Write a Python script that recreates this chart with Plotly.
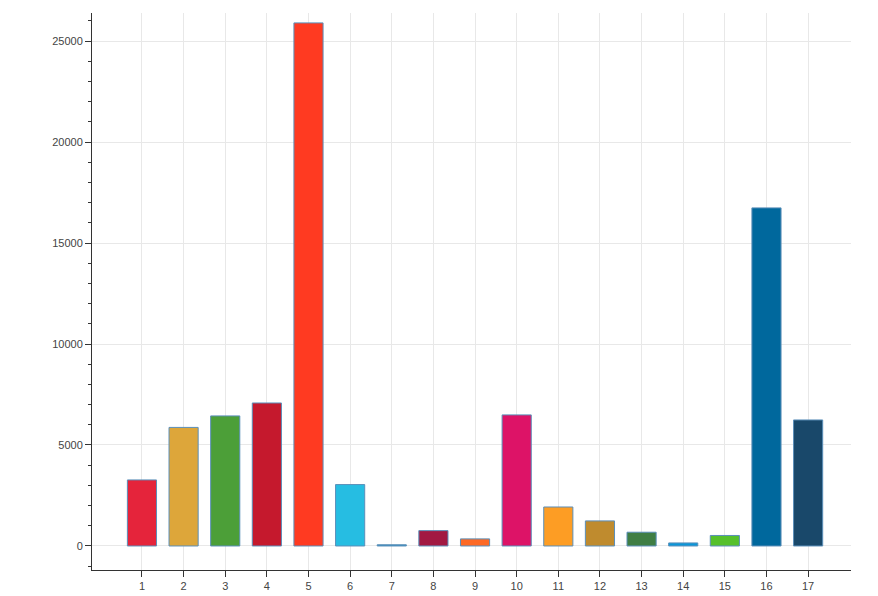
import plotly.graph_objects as go

goals = list(range(1, 18))
values = [3270, 5870, 6440, 7080, 25900, 3040, 60, 760, 350, 6490, 1930, 1240, 680, 150, 520, 16740, 6240]
colors = ["#E5243B", "#DDA63A", "#4C9F38", "#C5192D", "#FF3A21", "#26BDE2", "#2b8cbe",
          "#A21942", "#FD6925", "#DD1367", "#FD9D24", "#BF8B2E", "#3F7E44", "#0A97D9",
          "#56C02B", "#00689D", "#19486A"]
ytick_vals = [0, 5000, 10000, 15000, 20000, 25000]
ytick_text = ["0", "5000", "10000", "15000", "20000", "25000"]

fig = go.Figure(go.Bar(x=goals, y=values, width=0.7, marker=dict(color=colors, line=dict(color="#5b8fb9", width=1))))
fig.update_layout(
    width=878, height=596, margin=dict(l=84, r=35, t=5, b=34, autoexpand=False),
    plot_bgcolor="white", paper_bgcolor="white", showlegend=False,
    font=dict(family="Liberation Sans, Arial", size=11, color="#444"),
)
fig.update_xaxes(range=[-0.2, 18.03], tickmode="array", tickvals=goals, showgrid=True, gridcolor="#e8e8e8",
                 showline=True, linecolor="#333", linewidth=1, ticks="outside", ticklen=6, tickcolor="#333",
                 zeroline=False, automargin=False)
fig.update_yaxes(range=[-1190, 26390], tickmode="array", tickvals=ytick_vals, ticktext=ytick_text,
                 showgrid=True, gridcolor="#e8e8e8",
                 showline=True, linecolor="#333", linewidth=1, ticks="outside", ticklen=6, tickcolor="#333",
                 zeroline=False, automargin=False,
                 minor=dict(tickmode="linear", tick0=0, dtick=1000, ticks="outside", ticklen=3, tickcolor="#333", showgrid=False))
fig.write_html("out.html")
